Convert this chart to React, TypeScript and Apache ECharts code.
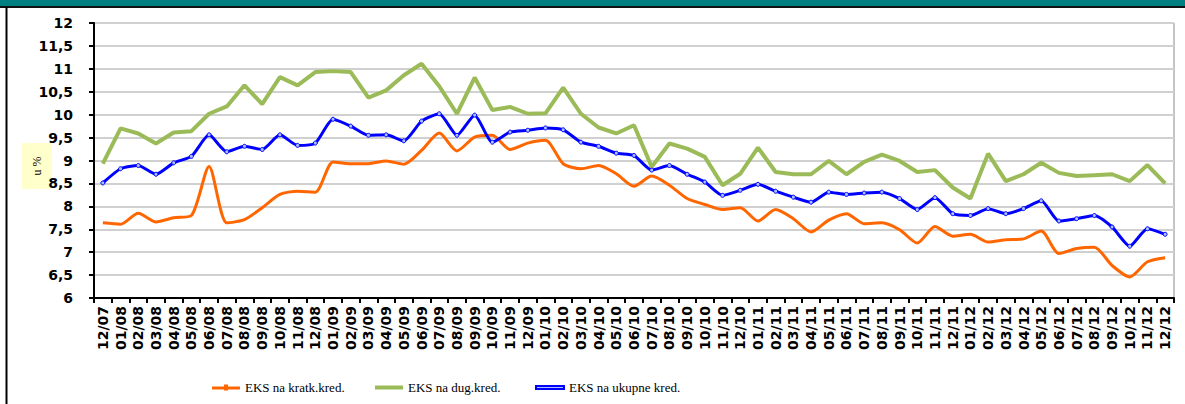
import React, { useEffect, useRef } from "react";
import * as echarts from "echarts";

const categories = [
  "12/07",
  "01/08","02/08","03/08","04/08","05/08","06/08","07/08","08/08","09/08","10/08","11/08","12/08",
  "01/09","02/09","03/09","04/09","05/09","06/09","07/09","08/09","09/09","10/09","11/09","12/09",
  "01/10","02/10","03/10","04/10","05/10","06/10","07/10","08/10","09/10","10/10","11/10","12/10",
  "01/11","02/11","03/11","04/11","05/11","06/11","07/11","08/11","09/11","10/11","11/11","12/11",
  "01/12","02/12","03/12","04/12","05/12","06/12","07/12","08/12","09/12","10/12","11/12","12/12",
];

const shortTerm = [
  7.64,
  7.61, 7.85, 7.66, 7.75, 7.80, 8.87, 7.64, 7.71, 7.97, 8.26, 8.33, 8.31,
  8.97, 8.93, 8.93, 8.99, 8.92, 9.22, 9.60, 9.21, 9.51, 9.55, 9.24, 9.38,
  9.44, 8.93, 8.82, 8.89, 8.71, 8.44, 8.66, 8.46, 8.17, 8.04, 7.93, 7.97,
  7.68, 7.93, 7.73, 7.44, 7.70, 7.84, 7.62, 7.64, 7.49, 7.20, 7.56, 7.35,
  7.39, 7.22, 7.27, 7.29, 7.46, 6.97, 7.08, 7.11, 6.71, 6.46, 6.79, 6.88,
];

const longTerm = [
  8.93,
  9.70, 9.59, 9.37, 9.61, 9.64, 10.02, 10.18, 10.64, 10.23, 10.82, 10.64, 10.93,
  10.95, 10.93, 10.37, 10.53, 10.86, 11.11, 10.62, 10.02, 10.81, 10.10, 10.17, 10.02,
  10.03, 10.59, 10.02, 9.72, 9.59, 9.77, 8.86, 9.37, 9.26, 9.08, 8.46, 8.71,
  9.28, 8.75, 8.70, 8.70, 8.99, 8.70, 8.97, 9.13, 8.99, 8.75, 8.79, 8.41,
  8.17, 9.15, 8.55, 8.70, 8.95, 8.73, 8.66, 8.68, 8.70, 8.55, 8.90, 8.50,
];

const total = [
  8.51,
  8.82, 8.89, 8.70, 8.95, 9.09, 9.56, 9.19, 9.31, 9.24, 9.56, 9.33, 9.38,
  9.90, 9.75, 9.55, 9.56, 9.43, 9.86, 10.02, 9.55, 9.99, 9.40, 9.62, 9.66,
  9.71, 9.67, 9.40, 9.31, 9.16, 9.11, 8.79, 8.89, 8.70, 8.53, 8.24, 8.35,
  8.48, 8.33, 8.20, 8.09, 8.31, 8.26, 8.29, 8.31, 8.17, 7.93, 8.19, 7.84,
  7.80, 7.95, 7.84, 7.95, 8.12, 7.68, 7.73, 7.80, 7.55, 7.13, 7.51, 7.39,
];

const seriesNames = ["EKS na kratk.kred.", "EKS na dug.kred.", "EKS na ukupne kred."];
const yAxisTitle = "u %";

export default function App() {
  const ref = useRef<HTMLDivElement>(null);
  useEffect(() => {
    if (!ref.current) return;
    const chart = echarts.init(ref.current, null, { renderer: "svg" });
    const legendText = {
      fontFamily: "Liberation Serif",
      fontSize: 13,
      color: "#000",
    };
    const mkLegend = (name: string, left: number, icon: string, h: number) => ({
      data: [{ name, icon }],
      left,
      top: 381,
      itemWidth: 28,
      itemHeight: h,
      padding: 0,
      textStyle: legendText,
    });
    chart.setOption({
      animation: false,
      backgroundColor: "#fff",
      grid: {
        left: 94,
        right: 11,
        top: 23,
        bottom: 106,
        show: true,
        borderColor: "#8a8a8a",
        borderWidth: 1,
      },
      legend: [
        mkLegend(seriesNames[0], 212, "path://M0,3h28v3h-28z M12,1h4v6h-4z", 8),
        mkLegend(seriesNames[1], 375, "rect", 4),
        mkLegend(seriesNames[2], 535, "rect", 3),
      ],
      xAxis: {
        type: "category",
        data: categories,
        boundaryGap: true,
        axisLine: { show: true, lineStyle: { color: "#000", width: 2 } },
        axisTick: { show: true, interval: 0, length: 5, lineStyle: { color: "#000", width: 2 } },
        axisLabel: {
          interval: 0,
          rotate: 90,
          margin: 8,
          fontFamily: "DejaVu Sans",
          fontWeight: "bold",
          fontSize: 14,
          color: "#000",
        },
        splitLine: { show: false },
      },
      yAxis: {
        type: "value",
        min: 6,
        max: 12,
        interval: 0.5,
        axisLine: { show: true, lineStyle: { color: "#000", width: 2 } },
        axisTick: { show: true, length: 5, lineStyle: { color: "#000", width: 2 } },
        axisLabel: {
          margin: 21,
          fontFamily: "DejaVu Sans",
          fontWeight: "bold",
          fontSize: 14,
          color: "#000",
          formatter: (v: number) => String(v).replace(".", ","),
        },
        splitLine: { show: true, lineStyle: { color: "#d0d0d0", width: 2 } },
      },
      series: [
        {
          name: seriesNames[0],
          type: "line",
          data: shortTerm,
          smooth: 0.25,
          symbol: "rect",
          symbolSize: 3,
          showSymbol: false,
          lineStyle: { color: "#ff6600", width: 3 },
          itemStyle: { color: "#ff6600" },
          z: 3,
        },
        {
          name: seriesNames[1],
          type: "line",
          data: longTerm,
          symbol: "none",
          lineStyle: { color: "#9bbb59", width: 4 },
          itemStyle: { color: "#9bbb59" },
          z: 2,
        },
        {
          name: seriesNames[2],
          type: "line",
          data: total,
          smooth: 0.2,
          symbol: "circle",
          symbolSize: 4,
          showSymbol: true,
          lineStyle: { color: "#0000ff", width: 3 },
          itemStyle: { color: "#a8c0ff", borderColor: "#0000ff", borderWidth: 1 },
          z: 4,
        },
      ],
      graphic: [
        { type: "rect", shape: { x: 0, y: 0, width: 1185, height: 6 }, style: { fill: "#008080" }, silent: true },
        { type: "line", shape: { x1: 0, y1: 7, x2: 1185, y2: 7 }, style: { stroke: "#111", lineWidth: 2 }, silent: true },
        { type: "line", shape: { x1: 6.5, y1: 7, x2: 6.5, y2: 404 }, style: { stroke: "#000", lineWidth: 2 }, silent: true },
        {
          type: "rect",
          shape: { x: 22, y: 143, width: 30, height: 46 },
          style: { fill: "#ffffcc" },
          silent: true,
        },
        {
          type: "text",
          x: 37,
          y: 166,
          rotation: Math.PI / 2,
          style: {
            text: yAxisTitle,
            fontFamily: "Liberation Serif",
            fontSize: 12,
            fill: "#000",
            align: "center",
            verticalAlign: "middle",
          },
          silent: true,
        },
      ],
    });
    return () => chart.dispose();
  }, []);
  return (
    <div
      ref={ref}
      style={{ position: "absolute", left: 0, top: 0, width: 1185, height: 404 }}
    />
  );
}
